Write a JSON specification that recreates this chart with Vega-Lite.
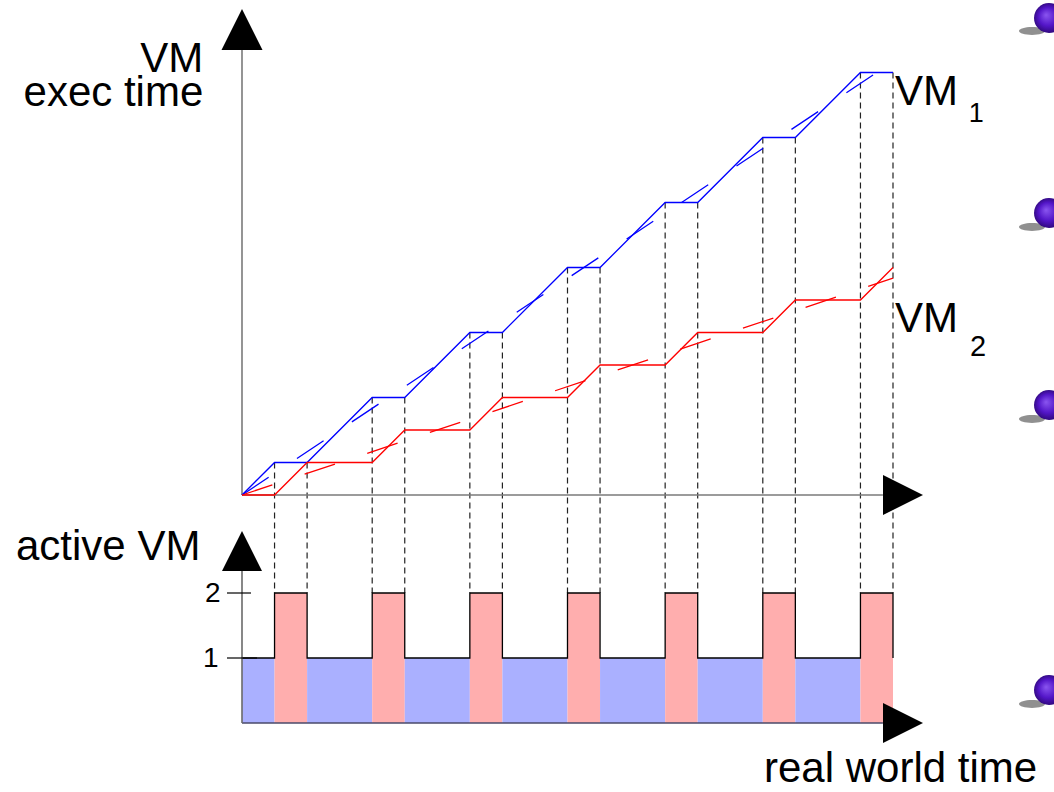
{
  "$schema": "https://vega.github.io/schema/vega-lite/v6.json",
  "width": 1054,
  "height": 792,
  "autosize": {"type": "none"},
  "padding": 0,
  "background": "white",
  "config": {
    "view": {"stroke": null},
    "font": "Liberation Sans",
    "text": {"font": "Liberation Sans", "color": "#000000"}
  },
  "datasets": {
    "exec": [
      {"vm": "VM1", "t": 0, "exec": 0}, {"vm": "VM1", "t": 1, "exec": 1}, {"vm": "VM1", "t": 2, "exec": 1},
      {"vm": "VM1", "t": 4, "exec": 3}, {"vm": "VM1", "t": 5, "exec": 3}, {"vm": "VM1", "t": 7, "exec": 5},
      {"vm": "VM1", "t": 8, "exec": 5}, {"vm": "VM1", "t": 10, "exec": 7}, {"vm": "VM1", "t": 11, "exec": 7},
      {"vm": "VM1", "t": 13, "exec": 9}, {"vm": "VM1", "t": 14, "exec": 9}, {"vm": "VM1", "t": 16, "exec": 11},
      {"vm": "VM1", "t": 17, "exec": 11}, {"vm": "VM1", "t": 19, "exec": 13}, {"vm": "VM1", "t": 20, "exec": 13},
      {"vm": "VM2", "t": 0, "exec": 0}, {"vm": "VM2", "t": 1, "exec": 0}, {"vm": "VM2", "t": 2, "exec": 1},
      {"vm": "VM2", "t": 4, "exec": 1}, {"vm": "VM2", "t": 5, "exec": 2}, {"vm": "VM2", "t": 7, "exec": 2},
      {"vm": "VM2", "t": 8, "exec": 3}, {"vm": "VM2", "t": 10, "exec": 3}, {"vm": "VM2", "t": 11, "exec": 4},
      {"vm": "VM2", "t": 13, "exec": 4}, {"vm": "VM2", "t": 14, "exec": 5}, {"vm": "VM2", "t": 16, "exec": 5},
      {"vm": "VM2", "t": 17, "exec": 6}, {"vm": "VM2", "t": 19, "exec": 6}, {"vm": "VM2", "t": 20, "exec": 7}
    ],
    "trend": [
      {"vm": "VM1", "t": 0, "exec": 0}, {"vm": "VM1", "t": 20, "exec": 13.33},
      {"vm": "VM2", "t": 0, "exec": 0}, {"vm": "VM2", "t": 20, "exec": 6.67}
    ],
    "cuts": [
      {"t": 1, "exec": 1, "floor": -3.015}, {"t": 2, "exec": 1, "floor": -3.015},
      {"t": 4, "exec": 3, "floor": -3.015}, {"t": 5, "exec": 3, "floor": -3.015},
      {"t": 7, "exec": 5, "floor": -3.015}, {"t": 8, "exec": 5, "floor": -3.015},
      {"t": 10, "exec": 7, "floor": -3.015}, {"t": 11, "exec": 7, "floor": -3.015},
      {"t": 13, "exec": 9, "floor": -3.015}, {"t": 14, "exec": 9, "floor": -3.015},
      {"t": 16, "exec": 11, "floor": -3.015}, {"t": 17, "exec": 11, "floor": -3.015},
      {"t": 19, "exec": 13, "floor": -3.015}, {"t": 20, "exec": 13, "floor": -3.015}
    ],
    "execAxes": [
      {"t": 0, "t2": 0, "exec": 0, "exec2": 13.69},
      {"t": 0, "t2": 19.69, "exec": 0, "exec2": 0}
    ],
    "slices": [
      {"t0": 0, "t1": 1, "active": 1}, {"t0": 1, "t1": 2, "active": 2},
      {"t0": 2, "t1": 4, "active": 1}, {"t0": 4, "t1": 5, "active": 2},
      {"t0": 5, "t1": 7, "active": 1}, {"t0": 7, "t1": 8, "active": 2},
      {"t0": 8, "t1": 10, "active": 1}, {"t0": 10, "t1": 11, "active": 2},
      {"t0": 11, "t1": 13, "active": 1}, {"t0": 13, "t1": 14, "active": 2},
      {"t0": 14, "t1": 16, "active": 1}, {"t0": 16, "t1": 17, "active": 2},
      {"t0": 17, "t1": 19, "active": 1}, {"t0": 19, "t1": 20, "active": 2}
    ],
    "steps": [
      {"t": 0, "active": 1}, {"t": 1, "active": 2}, {"t": 2, "active": 1}, {"t": 4, "active": 2},
      {"t": 5, "active": 1}, {"t": 7, "active": 2}, {"t": 8, "active": 1}, {"t": 10, "active": 2},
      {"t": 11, "active": 1}, {"t": 13, "active": 2}, {"t": 14, "active": 1}, {"t": 16, "active": 2},
      {"t": 17, "active": 1}, {"t": 19, "active": 2}, {"t": 20, "active": 1}
    ],
    "activeAxis": [
      {"t": 0, "t2": 0, "active": 0, "active2": 2.354}
    ],
    "activeTicks": [
      {"t": -0.461, "t2": 0.276, "active": 2},
      {"t": -0.461, "t2": 0.461, "active": 1}
    ],
    "timeAxis": [
      {"t": 0, "t2": 19.69, "active": 0}
    ],
    "one": [{"k": 1}]
  },
  "resolve": {"scale": {"y": "independent"}},
  "layer": [
    {
      "layer": [
        {
          "data": {"name": "cuts"},
          "mark": {"type": "rule", "color": "#222222", "strokeWidth": 1.2, "strokeDash": [6, 4]},
          "encoding": {
            "x": {"field": "t", "type": "quantitative", "axis": null, "scale": {"domain": [-7.4347, 24.9462], "nice": false, "zero": false, "padding": 0}},
            "y": {"field": "exec", "type": "quantitative", "axis": null, "scale": {"domain": [-9.1385, 15.2308], "nice": false, "zero": false, "padding": 0}},
            "y2": {"field": "floor"}
          }
        },
        {
          "data": {"name": "execAxes"},
          "mark": {"type": "rule", "color": "#7a7a7a", "strokeWidth": 1.6},
          "encoding": {
            "x": {"field": "t", "type": "quantitative", "axis": null},
            "x2": {"field": "t2"},
            "y": {"field": "exec", "type": "quantitative", "axis": null},
            "y2": {"field": "exec2"}
          }
        },
        {
          "data": {"name": "trend"},
          "mark": {"type": "line", "strokeWidth": 1.3, "strokeDash": [32, 34]},
          "encoding": {
            "x": {"field": "t", "type": "quantitative", "axis": null},
            "y": {"field": "exec", "type": "quantitative", "axis": null},
            "stroke": {"field": "vm", "type": "nominal", "legend": null, "scale": {"domain": ["VM1", "VM2"], "range": ["#0000ff", "#ff0000"]}}
          }
        },
        {
          "data": {"name": "exec"},
          "mark": {"type": "line", "strokeWidth": 1.3},
          "encoding": {
            "x": {"field": "t", "type": "quantitative", "axis": null},
            "y": {"field": "exec", "type": "quantitative", "axis": null},
            "stroke": {"field": "vm", "type": "nominal", "legend": null}
          }
        },
        {
          "data": {"name": "one"},
          "mark": {"type": "point", "shape": "M0,-1L1,1L-1,1Z", "size": 1681, "filled": true, "color": "#000000", "opacity": 1, "strokeWidth": 0},
          "encoding": {
            "x": {"datum": 0, "type": "quantitative"},
            "y": {"datum": 14.323, "type": "quantitative"}
          }
        },
        {
          "data": {"name": "one"},
          "mark": {"type": "point", "shape": "M-1,-1L1,0L-1,1Z", "size": 1600, "filled": true, "color": "#000000", "opacity": 1, "strokeWidth": 0},
          "encoding": {
            "x": {"datum": 20.307, "type": "quantitative"},
            "y": {"datum": 0, "type": "quantitative"}
          }
        },
        {
          "data": {"name": "one"},
          "mark": {"type": "text", "text": ["VM", "exec time"], "lineHeight": 34, "fontSize": 42, "align": "right", "baseline": "alphabetic"},
          "encoding": {
            "x": {"datum": -1.19, "type": "quantitative"},
            "y": {"datum": 13.015, "type": "quantitative"}
          }
        },
        {
          "data": {"name": "one"},
          "mark": {"type": "text", "text": "VM", "fontSize": 42, "align": "left", "baseline": "alphabetic"},
          "encoding": {
            "x": {"datum": 20.061, "type": "quantitative"},
            "y": {"datum": 12.0, "type": "quantitative"}
          }
        },
        {
          "data": {"name": "one"},
          "mark": {"type": "text", "text": "1", "fontSize": 27, "align": "left", "baseline": "alphabetic"},
          "encoding": {
            "x": {"datum": 22.33, "type": "quantitative"},
            "y": {"datum": 11.477, "type": "quantitative"}
          }
        },
        {
          "data": {"name": "one"},
          "mark": {"type": "text", "text": "VM", "fontSize": 42, "align": "left", "baseline": "alphabetic"},
          "encoding": {
            "x": {"datum": 20.061, "type": "quantitative"},
            "y": {"datum": 5.015, "type": "quantitative"}
          }
        },
        {
          "data": {"name": "one"},
          "mark": {"type": "text", "text": "2", "fontSize": 29, "align": "left", "baseline": "alphabetic"},
          "encoding": {
            "x": {"datum": 22.366, "type": "quantitative"},
            "y": {"datum": 4.277, "type": "quantitative"}
          }
        },
        {
          "data": {"name": "one"},
          "mark": {"type": "point", "shape": "M-1,0A1,0.3,0,1,0,1,0A1,0.3,0,1,0,-1,0Z", "size": 676, "filled": true, "color": "#555555", "opacity": 0.65, "strokeWidth": 0},
          "encoding": {
            "x": {"datum": 24.27, "type": "quantitative"},
            "y": {"datum": 14.277, "type": "quantitative"}
          }
        },
        {
          "data": {"name": "one"},
          "mark": {"type": "point", "shape": "M-1,0A1,0.3,0,1,0,1,0A1,0.3,0,1,0,-1,0Z", "size": 676, "filled": true, "color": "#555555", "opacity": 0.65, "strokeWidth": 0},
          "encoding": {
            "x": {"datum": 24.27, "type": "quantitative"},
            "y": {"datum": 8.246, "type": "quantitative"}
          }
        },
        {
          "data": {"name": "one"},
          "mark": {"type": "point", "shape": "M-1,0A1,0.3,0,1,0,1,0A1,0.3,0,1,0,-1,0Z", "size": 676, "filled": true, "color": "#555555", "opacity": 0.65, "strokeWidth": 0},
          "encoding": {
            "x": {"datum": 24.27, "type": "quantitative"},
            "y": {"datum": 2.338, "type": "quantitative"}
          }
        },
        {
          "data": {"name": "one"},
          "mark": {"type": "point", "shape": "M-1,0A1,0.3,0,1,0,1,0A1,0.3,0,1,0,-1,0Z", "size": 676, "filled": true, "color": "#555555", "opacity": 0.65, "strokeWidth": 0},
          "encoding": {
            "x": {"datum": 24.27, "type": "quantitative"},
            "y": {"datum": -6.431, "type": "quantitative"}
          }
        },
        {
          "data": {"name": "one"},
          "mark": {"type": "point", "shape": "circle", "size": 900, "filled": true, "opacity": 1, "strokeWidth": 0,
            "fill": {"gradient": "radial", "x1": 0.4, "y1": 0.4, "r1": 0, "x2": 0.5, "y2": 0.5, "r2": 0.55,
              "stops": [{"offset": 0, "color": "#8a55f0"}, {"offset": 0.55, "color": "#5316c8"}, {"offset": 1, "color": "#2a0670"}]}},
          "encoding": {
            "x": {"datum": 24.793, "type": "quantitative"},
            "y": {"datum": 14.677, "type": "quantitative"}
          }
        },
        {
          "data": {"name": "one"},
          "mark": {"type": "point", "shape": "circle", "size": 900, "filled": true, "opacity": 1, "strokeWidth": 0,
            "fill": {"gradient": "radial", "x1": 0.4, "y1": 0.4, "r1": 0, "x2": 0.5, "y2": 0.5, "r2": 0.55,
              "stops": [{"offset": 0, "color": "#8a55f0"}, {"offset": 0.55, "color": "#5316c8"}, {"offset": 1, "color": "#2a0670"}]}},
          "encoding": {
            "x": {"datum": 24.793, "type": "quantitative"},
            "y": {"datum": 8.677, "type": "quantitative"}
          }
        },
        {
          "data": {"name": "one"},
          "mark": {"type": "point", "shape": "circle", "size": 900, "filled": true, "opacity": 1, "strokeWidth": 0,
            "fill": {"gradient": "radial", "x1": 0.4, "y1": 0.4, "r1": 0, "x2": 0.5, "y2": 0.5, "r2": 0.55,
              "stops": [{"offset": 0, "color": "#8a55f0"}, {"offset": 0.55, "color": "#5316c8"}, {"offset": 1, "color": "#2a0670"}]}},
          "encoding": {
            "x": {"datum": 24.793, "type": "quantitative"},
            "y": {"datum": 2.769, "type": "quantitative"}
          }
        },
        {
          "data": {"name": "one"},
          "mark": {"type": "point", "shape": "circle", "size": 900, "filled": true, "opacity": 1, "strokeWidth": 0,
            "fill": {"gradient": "radial", "x1": 0.4, "y1": 0.4, "r1": 0, "x2": 0.5, "y2": 0.5, "r2": 0.55,
              "stops": [{"offset": 0, "color": "#8a55f0"}, {"offset": 0.55, "color": "#5316c8"}, {"offset": 1, "color": "#2a0670"}]}},
          "encoding": {
            "x": {"datum": 24.793, "type": "quantitative"},
            "y": {"datum": -6.0, "type": "quantitative"}
          }
        }
      ]
    },
    {
      "layer": [
        {
          "data": {"name": "slices"},
          "mark": {"type": "bar", "orient": "vertical", "opacity": 1, "strokeWidth": 0},
          "encoding": {
            "x": {"field": "t0", "type": "quantitative", "axis": null},
            "x2": {"field": "t1"},
            "y": {"field": "active", "type": "quantitative", "axis": null, "stack": null, "scale": {"domain": [-1.0615, 11.1231], "nice": false, "zero": false, "padding": 0}},
            "fill": {"field": "active", "type": "ordinal", "legend": null, "scale": {"domain": [1, 2], "range": ["#aab0ff", "#ffaeae"]}}
          }
        },
        {
          "data": {"name": "timeAxis"},
          "mark": {"type": "rule", "color": "#4a4a6a", "strokeWidth": 1.6},
          "encoding": {
            "x": {"field": "t", "type": "quantitative", "axis": null},
            "x2": {"field": "t2"},
            "y": {"field": "active", "type": "quantitative", "axis": null}
          }
        },
        {
          "data": {"name": "steps"},
          "mark": {"type": "line", "interpolate": "step-after", "color": "#000000", "strokeWidth": 1.3},
          "encoding": {
            "x": {"field": "t", "type": "quantitative", "axis": null},
            "y": {"field": "active", "type": "quantitative", "axis": null}
          }
        },
        {
          "data": {"name": "activeAxis"},
          "mark": {"type": "rule", "color": "#6a6a6a", "strokeWidth": 1.6},
          "encoding": {
            "x": {"field": "t", "type": "quantitative", "axis": null},
            "y": {"field": "active", "type": "quantitative", "axis": null},
            "y2": {"field": "active2"}
          }
        },
        {
          "data": {"name": "activeTicks"},
          "mark": {"type": "rule", "color": "#000000", "strokeWidth": 1.2},
          "encoding": {
            "x": {"field": "t", "type": "quantitative", "axis": null},
            "x2": {"field": "t2"},
            "y": {"field": "active", "type": "quantitative", "axis": null}
          }
        },
        {
          "data": {"name": "one"},
          "mark": {"type": "point", "shape": "M0,-1L1,1L-1,1Z", "size": 1600, "filled": true, "color": "#000000", "opacity": 1, "strokeWidth": 0},
          "encoding": {
            "x": {"datum": 0, "type": "quantitative"},
            "y": {"datum": 2.646, "type": "quantitative"}
          }
        },
        {
          "data": {"name": "one"},
          "mark": {"type": "point", "shape": "M-1,-1L1,0L-1,1Z", "size": 1600, "filled": true, "color": "#000000", "opacity": 1, "strokeWidth": 0},
          "encoding": {
            "x": {"datum": 20.307, "type": "quantitative"},
            "y": {"datum": 0, "type": "quantitative"}
          }
        },
        {
          "data": {"name": "one"},
          "mark": {"type": "text", "text": "active VM", "fontSize": 42, "align": "left", "baseline": "alphabetic"},
          "encoding": {
            "x": {"datum": -6.943, "type": "quantitative"},
            "y": {"datum": 2.508, "type": "quantitative"}
          }
        },
        {
          "data": {"name": "one"},
          "mark": {"type": "text", "text": "2", "fontSize": 28, "align": "right", "baseline": "alphabetic"},
          "encoding": {
            "x": {"datum": -0.66, "type": "quantitative"},
            "y": {"datum": 1.862, "type": "quantitative"}
          }
        },
        {
          "data": {"name": "one"},
          "mark": {"type": "text", "text": "1", "fontSize": 28, "align": "right", "baseline": "alphabetic"},
          "encoding": {
            "x": {"datum": -0.72, "type": "quantitative"},
            "y": {"datum": 0.8615, "type": "quantitative"}
          }
        },
        {
          "data": {"name": "one"},
          "mark": {"type": "text", "text": "real world time", "fontSize": 42, "align": "left", "baseline": "alphabetic"},
          "encoding": {
            "x": {"datum": 16.037, "type": "quantitative"},
            "y": {"datum": -0.9, "type": "quantitative"}
          }
        }
      ]
    }
  ]
}
